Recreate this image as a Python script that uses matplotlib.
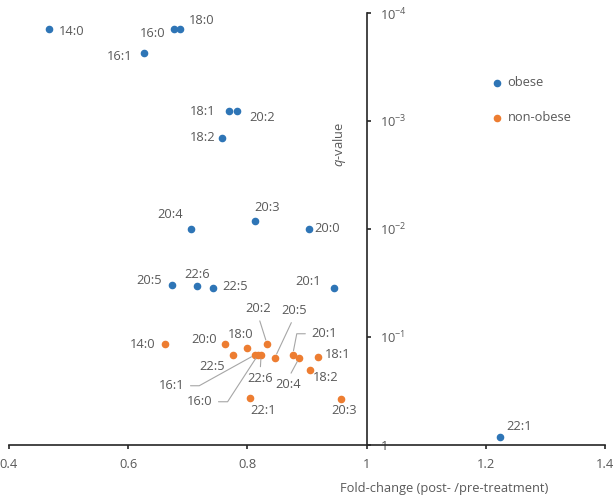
import numpy as np
import matplotlib
matplotlib.use('Agg')
import matplotlib.pyplot as plt

plt.rcParams['font.family'] = ['Open Sans', 'DejaVu Sans']
plt.rcParams['mathtext.fontset'] = 'custom'
plt.rcParams['mathtext.rm'] = 'Open Sans'
plt.rcParams['mathtext.it'] = 'Open Sans:italic'

# obese group
obese_labels = ['14:0', '16:0', '18:0', '16:1', '18:1', '20:2', '18:2', '20:4',
                '20:3', '20:0', '20:5', '22:6', '22:5', '20:1', '22:1']
obese_fc = [0.467, 0.677, 0.687, 0.626, 0.769, 0.782, 0.757, 0.705,
            0.813, 0.903, 0.673, 0.715, 0.743, 0.946, 1.224]
obese_q = [1.4e-4, 1.4e-4, 1.4e-4, 2.35e-4, 8.0e-4, 8.0e-4, 1.45e-3, 1.0e-2,
           8.4e-3, 1.0e-2, 0.033, 0.034, 0.035, 0.035, 0.84]

# non-obese group
nonob_labels = ['14:0', '20:0', '18:0', '22:5', '16:1', '16:0', '22:6', '20:2',
                '20:5', '20:1', '20:4', '18:1', '18:2', '20:3', '22:1']
nonob_fc = [0.661, 0.763, 0.799, 0.776, 0.813, 0.818, 0.823, 0.833,
            0.846, 0.876, 0.887, 0.918, 0.905, 0.957, 0.804]
nonob_q = [0.116, 0.116, 0.126, 0.146, 0.146, 0.146, 0.146, 0.116,
           0.156, 0.146, 0.156, 0.154, 0.20, 0.372, 0.37]

x_ticks = [0.4, 0.6, 0.8, 1.0, 1.2, 1.4]
y_ticks = [1, 1e-1, 1e-2, 1e-3, 1e-4]
y_ticklabels = ['1', r'$\mathregular{10^{-1}}$', r'$\mathregular{10^{-2}}$',
                r'$\mathregular{10^{-3}}$', r'$\mathregular{10^{-4}}$']

BLUE = '#2E75B6'
ORANGE = '#ED7D31'
GREY = '#595959'
LEAD = '#A6A6A6'
FS = 9.3

# label offsets in pixels (dx, dy up)
obese_off = {'14:0': (23, -3), '16:0': (-21, -5), '18:0': (22, 8), '16:1': (-24, -3),
             '18:1': (-26, -1), '20:2': (25, -7), '18:2': (-19, 1), '20:4': (-21, 14),
             '20:3': (12, 13), '20:0': (18, 0), '20:5': (-23, 4), '22:6': (0, 12),
             '22:5': (22, 1), '20:1': (-26, 6), '22:1': (19, 10)}
nonob_off = {'14:0': (-22, -1), '20:0': (-21, 4), '18:0': (-6, 13), '22:5': (-21, -12),
             '16:1': (-83, -31), '16:0': (-58, -47), '22:6': (-1, -24), '20:2': (-9, 35),
             '20:5': (19, 47), '20:1': (31, 21), '20:4': (-11, -27), '18:1': (20, 3),
             '18:2': (16, -8), '20:3': (3, -12), '22:1': (13, -12)}
# leader lines: (relpos, connectionstyle)
leaders = {'16:1': ((1, 0.5), 'angle,angleA=0,angleB=29,rad=0'),
           '16:0': ((1, 0.5), 'angle,angleA=0,angleB=57,rad=0'),
           '20:1': ((0, 0.5), 'angle,angleA=0,angleB=79,rad=0'),
           '22:6': ((0.5, 1), 'arc3'),
           '20:2': ((0.5, 0), 'arc3'),
           '20:5': ((0.5, 0), 'arc3'),
           '20:4': ((0.5, 1), 'arc3')}

fig = plt.figure(figsize=(6.14, 4.96), dpi=100)
ax = fig.add_axes([9 / 614, 1 - 445 / 496, 596 / 614, 432 / 496])

s1 = ax.scatter(obese_fc, obese_q, s=20, color=BLUE, zorder=3, label='obese', clip_on=False)
s2 = ax.scatter(nonob_fc, nonob_q, s=20, color=ORANGE, zorder=3, label='non-obese', clip_on=False)

for lab, x, y in zip(obese_labels, obese_fc, obese_q):
    ax.annotate(lab, (x, y), xytext=obese_off[lab], textcoords='offset pixels',
                ha='center', va='center', fontsize=FS, color=GREY)

for lab, x, y in zip(nonob_labels, nonob_fc, nonob_q):
    kw = {}
    if lab in leaders:
        rp, cs = leaders[lab]
        kw['arrowprops'] = dict(arrowstyle='-', color=LEAD, lw=0.8, relpos=rp,
                                connectionstyle=cs, shrinkA=2, shrinkB=3)
    ax.annotate(lab, (x, y), xytext=nonob_off[lab], textcoords='offset pixels',
                ha='center', va='center', fontsize=FS, color=GREY, **kw)

ax.set_yscale('log')
ax.set_xlim(0.4, 1.4)
ax.set_ylim(1, 1e-4)

ax.spines['top'].set_visible(False)
ax.spines['left'].set_visible(False)
ax.spines['right'].set_position(('data', 1.0))
ax.spines['right'].set_color('#262626')
ax.spines['bottom'].set_color('#262626')
ax.spines['right'].set_linewidth(1.2)
ax.spines['bottom'].set_linewidth(1.2)

ax.yaxis.tick_right()
ax.set_yticks(y_ticks)
ax.set_yticklabels(y_ticklabels)
ax.yaxis.set_minor_locator(matplotlib.ticker.NullLocator())
ax.tick_params(axis='y', direction='out', length=3, width=1.2, color='#262626',
               labelcolor=GREY, labelsize=FS, pad=7)

ax.set_xticks(x_ticks)
ax.set_xticklabels(['%g' % t for t in x_ticks])
ax.tick_params(axis='x', direction='out', length=3, width=1.2, color='#262626',
               labelcolor=GREY, labelsize=FS, pad=6)

ax.set_xlabel('Fold-change (post- /pre-treatment)', fontsize=FS, color=GREY, va='center')
ax.xaxis.set_label_coords(0.73, -0.1)

ax.text(0.954, 10 ** -2.78, '$q$-value', rotation=90, ha='center', va='center',
        fontsize=FS, color=GREY)

ax.legend(handles=[s1, s2], loc='upper left', bbox_to_anchor=(0.802, 0.868),
          frameon=False, fontsize=FS, labelcolor=GREY, borderpad=0,
          handlelength=0.6, handletextpad=0.5, labelspacing=1.7, scatterpoints=1)

fig.savefig('out.png', dpi=100)
